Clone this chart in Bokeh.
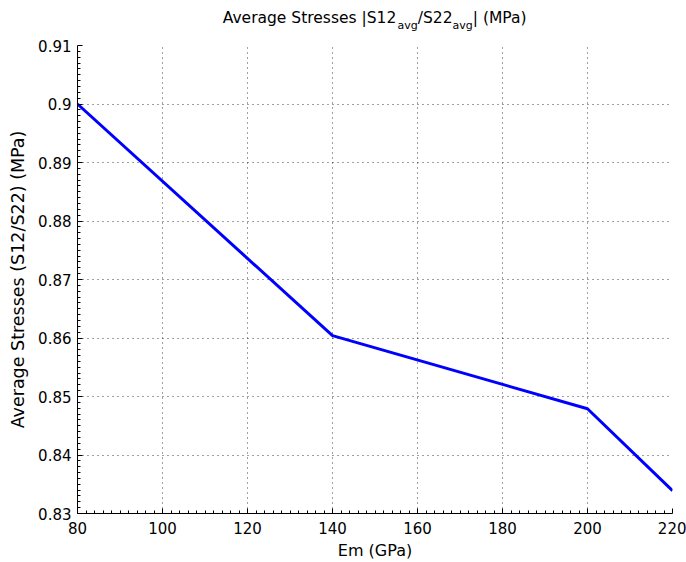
from bokeh.plotting import figure
from bokeh.models import FixedTicker, Range1d, CustomJSTickFormatter, ColumnDataSource
from bokeh.layouts import column
from bokeh.core.properties import value
from bokeh.embed import file_html
from bokeh.resources import INLINE
import numpy as np

# ---- data ----
em_gpa = [80, 140, 200, 220]
stress_ratio = [0.9000, 0.8604, 0.8479, 0.8339]

x_ticks = [80, 100, 120, 140, 160, 180, 200, 220]
x_tick_labels = ["80", "100", "120", "140", "160", "180", "200", "220"]
y_ticks = [0.83, 0.84, 0.85, 0.86, 0.87, 0.88, 0.89, 0.90, 0.91]
y_tick_labels = ["0.83", "0.84", "0.85", "0.86", "0.87", "0.88", "0.89", "0.9", "0.91"]

title_parts = ["Average Stresses |S12", "avg", "/S22", "avg", "| (MPa)"]
title_kinds = ["main", "sub", "main", "sub", "main"]
x_label = "Em (GPa)"
y_label = "Average Stresses (S12/S22) (MPa)"

FONT = "DejaVu Sans"
W_TOTAL = 686
TITLE_H = 35
MAIN_H = 527
LEFT, RIGHT = 77, 14

# ---------------- main plot ----------------
p = figure(width=W_TOTAL, height=MAIN_H, output_backend="svg", toolbar_location=None,
           x_range=Range1d(x_ticks[0], x_ticks[-1]),
           y_range=Range1d(y_ticks[0], y_ticks[-1]),
           min_border_left=LEFT, min_border_right=RIGHT, min_border_top=10,
           min_border_bottom=49)
p.outline_line_color = None
p.background_fill_color = "white"
p.border_fill_color = "white"

p.line(em_gpa, stress_ratio, line_color="#0000FF", line_width=3)


def minor(ticks, n=10):
    out = []
    for a, b in zip(ticks[:-1], ticks[1:]):
        out.extend(list(np.linspace(a, b, n + 1)[1:-1]))
    return out


p.xaxis.ticker = FixedTicker(ticks=x_ticks, minor_ticks=minor(x_ticks))
p.yaxis.ticker = FixedTicker(ticks=y_ticks, minor_ticks=minor(y_ticks))
fmt_code = ("const i = tvals.findIndex(t => Math.abs(t - tick) < 1e-9);"
            "return i >= 0 ? tlabs[i] : '';")
p.xaxis.formatter = CustomJSTickFormatter(args=dict(tvals=x_ticks, tlabs=x_tick_labels), code=fmt_code)
p.yaxis.formatter = CustomJSTickFormatter(args=dict(tvals=y_ticks, tlabs=y_tick_labels), code=fmt_code)

for ax in (p.xaxis[0], p.yaxis[0]):
    ax.axis_line_color = "black"
    ax.axis_line_width = 1
    ax.major_tick_line_color = "black"
    ax.minor_tick_line_color = "black"
    ax.major_tick_in = 5
    ax.major_tick_out = 0
    ax.minor_tick_in = 3
    ax.minor_tick_out = 0
    ax.major_label_text_font = FONT
    ax.major_label_text_font_size = "15px"
    ax.major_label_text_color = "black"
    ax.axis_label_text_font = FONT
    ax.axis_label_text_font_style = "normal"
    ax.axis_label_text_color = "black"

p.xaxis.major_label_standoff = 8
p.xaxis.axis_label = x_label
p.xaxis.axis_label_text_font_size = "16px"
p.xaxis.axis_label_standoff = 4

p.yaxis.major_label_standoff = 6
p.yaxis.axis_label = y_label
p.yaxis.axis_label_text_font_size = "17.5px"
p.yaxis.axis_label_standoff = 7

for g in (p.xgrid[0], p.ygrid[0]):
    g.grid_line_color = "black"
    g.grid_line_alpha = 0.75
    g.grid_line_width = 1
    g.grid_line_dash = "1 4"

# ---------------- title strip (with subscripts) ----------------
# In a column, Bokeh aligns this strip's frame with the main plot's frame,
# so the strip's x range is expressed in the page's pixel columns of that frame.
t = figure(width=W_TOTAL, height=TITLE_H, output_backend="svg", toolbar_location=None,
           x_range=Range1d(LEFT, W_TOTAL - RIGHT), y_range=Range1d(0, TITLE_H),
           x_axis_type=None, y_axis_type=None, min_border=0)
t.outline_line_color = None
t.grid.visible = False
t.border_fill_color = "white"
t.background_fill_color = "white"

# DejaVu Sans advance widths (em/1000)
ADV = {" ": 318, "A": 684, "v": 592, "e": 615, "r": 411, "a": 613, "g": 635, "S": 635,
       "t": 392, "s": 521, "|": 337, "1": 636, "2": 636, "/": 337, "(": 390, ")": 390,
       "M": 863, "P": 603}
SIZE = {"main": 15.5, "sub": 11.0}
BASE = {"main": TITLE_H - 17.5, "sub": TITLE_H - 25.0}
widths = [sum(ADV.get(c, 600) for c in s) / 1000.0 * SIZE[k] for s, k in zip(title_parts, title_kinds)]
frame_mid = LEFT + (W_TOTAL - LEFT - RIGHT) / 2.0
xs, cur = [], frame_mid - sum(widths) / 2.0
for w in widths:
    xs.append(cur)
    cur += w
src = ColumnDataSource(dict(x=xs, y=[BASE[k] for k in title_kinds], text=title_parts,
                            size=[f"{SIZE[k]}px" for k in title_kinds]))
t.text(x="x", y="y", text="text", source=src, text_font=value(FONT),
       text_font_size="size", text_color="black", text_align="left",
       text_baseline="alphabetic")

layout = column(t, p, spacing=0)
open("out.html", "w").write(file_html(layout, INLINE))
